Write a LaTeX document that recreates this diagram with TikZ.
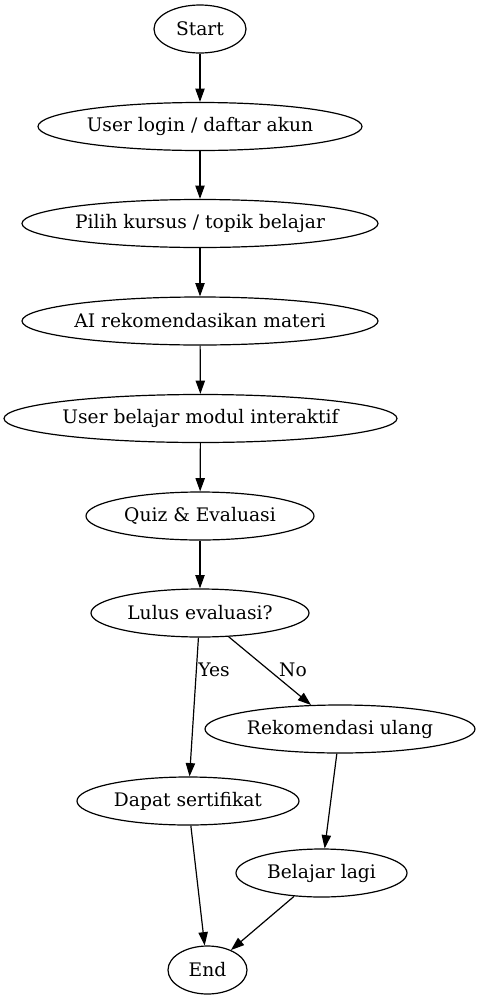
\documentclass[tikz,border=0pt]{standalone}
\usepackage{fontspec}
\setmainfont{DejaVu Serif}
\usetikzlibrary{shapes.geometric,arrows.meta}
\tikzset{
  flownode/.style={draw, ellipse, line width=0.9pt, inner sep=0pt, minimum height=36pt,
    font=\fontsize{14}{17}\selectfont},
  flowedge/.style={draw, line width=0.9pt, -{Triangle[length=10pt,width=7pt]}},
  edgelabel/.style={inner sep=0pt, font=\fontsize{14}{17}\selectfont}
}
\begin{document}
\begin{tikzpicture}[x=0.75pt,y=-0.75pt]
\useasboundingbox (0,0) rectangle (481,1000);
\node[flownode, minimum width=69pt] (start) at (200,29) {Start};
\node[flownode, minimum width=243pt] (login) at (200,126.5) {User login / daftar akun};
\node[flownode, minimum width=267pt] (pilih) at (200,223.5) {Pilih kursus / topik belajar};
\node[flownode, minimum width=267pt] (ai) at (200,321) {AI rekomendasikan materi};
\node[flownode, minimum width=294.75pt] (modul) at (200.5,418.5) {User belajar modul interaktif};
\node[flownode, minimum width=171pt] (quiz) at (200,516) {Quiz \& Evaluasi};
\node[flownode, minimum width=163.5pt] (lulus) at (200,613) {Lulus evaluasi?};
\node[flownode, minimum width=202.5pt] (rekom) at (340,729) {Rekomendasi ulang};
\node[flownode, minimum width=166.5pt] (dapat) at (188,801) {Dapat sertifikat};
\node[flownode, minimum width=128.25pt] (lagi) at (321.5,873) {Belajar lagi};
\node[flownode, minimum width=59.25pt] (end) at (207.5,970) {End};
\draw[flowedge] (start) -- (login);
\draw[flowedge] (login) -- (pilih);
\draw[flowedge] (pilih) -- (ai);
\draw[flowedge] (ai) -- (modul);
\draw[flowedge] (modul) -- (quiz);
\draw[flowedge] (quiz) -- (lulus);
\draw[flowedge] (lulus) -- (dapat);
\draw[flowedge] (lulus) -- (rekom);
\draw[flowedge] (rekom) -- (lagi);
\draw[flowedge] (dapat) -- (end);
\draw[flowedge] (lagi) -- (end);
\node[edgelabel] (yes) at (214,670) {Yes};
\node[edgelabel] (no) at (293,670) {No};
\end{tikzpicture}
\end{document}
